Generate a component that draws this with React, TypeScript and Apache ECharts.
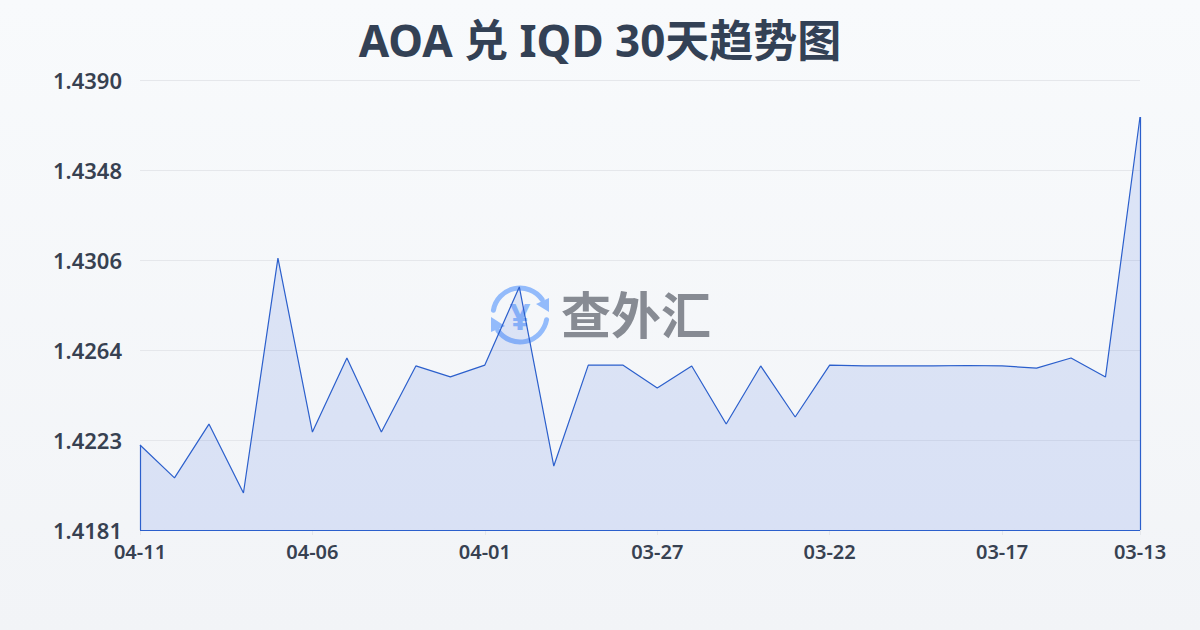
import React, { useEffect, useRef } from "react";
import * as echarts from "echarts";

const TITLE = "AOA 兑 IQD 30天趋势图";
const WATERMARK = "查外汇";
const categories = [
  "04-11","04-10","04-09","04-08","04-07","04-06","04-05","04-04","04-03","04-02",
  "04-01","03-31","03-30","03-29","03-28","03-27","03-26","03-25","03-24","03-23",
  "03-22","03-21","03-20","03-19","03-18","03-17","03-16","03-15","03-14","03-13",
];
const rates = [
  1.42205,1.42052,1.42302,1.41982,1.43073,1.42265,1.42609,1.42265,1.42572,1.42521,
  1.42576,1.42939,1.42107,1.42576,1.42576,1.4247,1.42572,1.42302,1.42572,1.42335,
  1.42576,1.42572,1.42572,1.42572,1.42574,1.42572,1.42562,1.42609,1.42521,1.43728,
];
const yMin = 1.4181;
const yMax = 1.439;
const yTicks = [1.4181, 1.42228, 1.42646, 1.43064, 1.43482, 1.439];
const yLabels = ["1.4181", "1.4223", "1.4264", "1.4306", "1.4348", "1.4390"];
const xLabelIndices = [0, 5, 10, 15, 20, 25, 29];

const FONT = '"Noto Sans", "Noto Sans CJK SC", sans-serif';
const LINE = "#2b5fcc";
const ICON = "#93bbfb";

export default function App() {
  const ref = useRef<HTMLDivElement>(null);
  useEffect(() => {
    if (!ref.current) return;
    const chart = echarts.init(ref.current, undefined, { renderer: "svg" });
    const last = categories.length - 1;
    chart.setOption({
      animation: false,
      backgroundColor: new echarts.graphic.LinearGradient(0, 0, 0, 1, [
        { offset: 0, color: "#f8fafc" },
        { offset: 1, color: "#f2f4f7" },
      ]),
      title: {
        text: TITLE,
        left: "center",
        top: 13,
        textStyle: { fontFamily: FONT, fontSize: 44, fontWeight: 700, color: "#334155" },
      },
      grid: { left: 140, right: 60, top: 80, bottom: 100 },
      xAxis: {
        type: "category",
        boundaryGap: false,
        data: categories,
        axisLine: { show: false },
        axisTick: {
          show: true,
          length: 5,
          lineStyle: { color: "#e5e7eb" },
          interval: (i: number) => xLabelIndices.includes(i),
        },
        axisLabel: {
          interval: (i: number) => xLabelIndices.includes(i),
          fontFamily: FONT,
          fontSize: 20,
          fontWeight: 600,
          color: "#374151",
          margin: 11,
          hideOverlap: false,
        },
      },
      yAxis: {
        type: "value",
        min: yMin,
        max: yMax,
        axisLine: { show: false },
        axisTick: { show: false, customValues: yTicks },
        splitLine: { show: true, lineStyle: { color: "#e5e7eb", width: 1 } },
        axisLabel: {
          show: true,
          customValues: yTicks,
          formatter: (v: number) => {
            const i = yTicks.findIndex((t) => Math.abs(t - v) < 1e-7);
            return i >= 0 ? yLabels[i] : "";
          },
          fontFamily: FONT,
          fontSize: 22,
          fontWeight: 600,
          color: "#374151",
          margin: 18,
          hideOverlap: false,
        },
      },
      graphic: [
        {
          type: "group",
          z: -1,
          silent: true,
          children: [
            { type: "arc", shape: { cx: 520, cy: 315, r: 27, startAngle: (Math.PI * 190) / 180, endAngle: (Math.PI * 325) / 180 }, style: { stroke: ICON, lineWidth: 5, fill: "none", lineCap: "round" } },
            { type: "arc", shape: { cx: 520, cy: 315, r: 27, startAngle: (Math.PI * 10) / 180, endAngle: (Math.PI * 145) / 180 }, style: { stroke: ICON, lineWidth: 5, fill: "none", lineCap: "round" } },
            { type: "polygon", shape: { points: [[549, 298], [549, 312], [536, 304]] }, style: { fill: ICON } },
            { type: "polygon", shape: { points: [[491, 317], [491, 332], [505, 326]] }, style: { fill: ICON } },
            { type: "text", x: 520, y: 316, style: { text: "¥", fill: ICON, font: `700 36px ${FONT}`, align: "center", verticalAlign: "middle" } },
            { type: "text", x: 636, y: 315, style: { text: WATERMARK, fill: "#878b93", font: `700 50px ${FONT}`, align: "center", verticalAlign: "middle" } },
          ],
        },
      ],
      series: [
        {
          type: "line",
          data: rates,
          symbol: "none",
          smooth: false,
          lineStyle: { color: LINE, width: 1.2 },
          areaStyle: { color: "rgba(50,100,225,0.19)", origin: "start" },
          markLine: {
            silent: true,
            symbol: "none",
            label: { show: false },
            lineStyle: { color: LINE, width: 1.2, type: "solid" },
            data: [
              [{ coord: [categories[0], yMin] }, { coord: [categories[0], rates[0]] }],
              [{ coord: [categories[0], yMin] }, { coord: [categories[last], yMin] }],
              [{ coord: [categories[last], yMin] }, { coord: [categories[last], rates[last]] }],
            ],
          },
        },
      ],
    });
    return () => chart.dispose();
  }, []);
  return <div ref={ref} style={{ position: "fixed", left: 0, top: 0, width: 1200, height: 630 }} />;
}
